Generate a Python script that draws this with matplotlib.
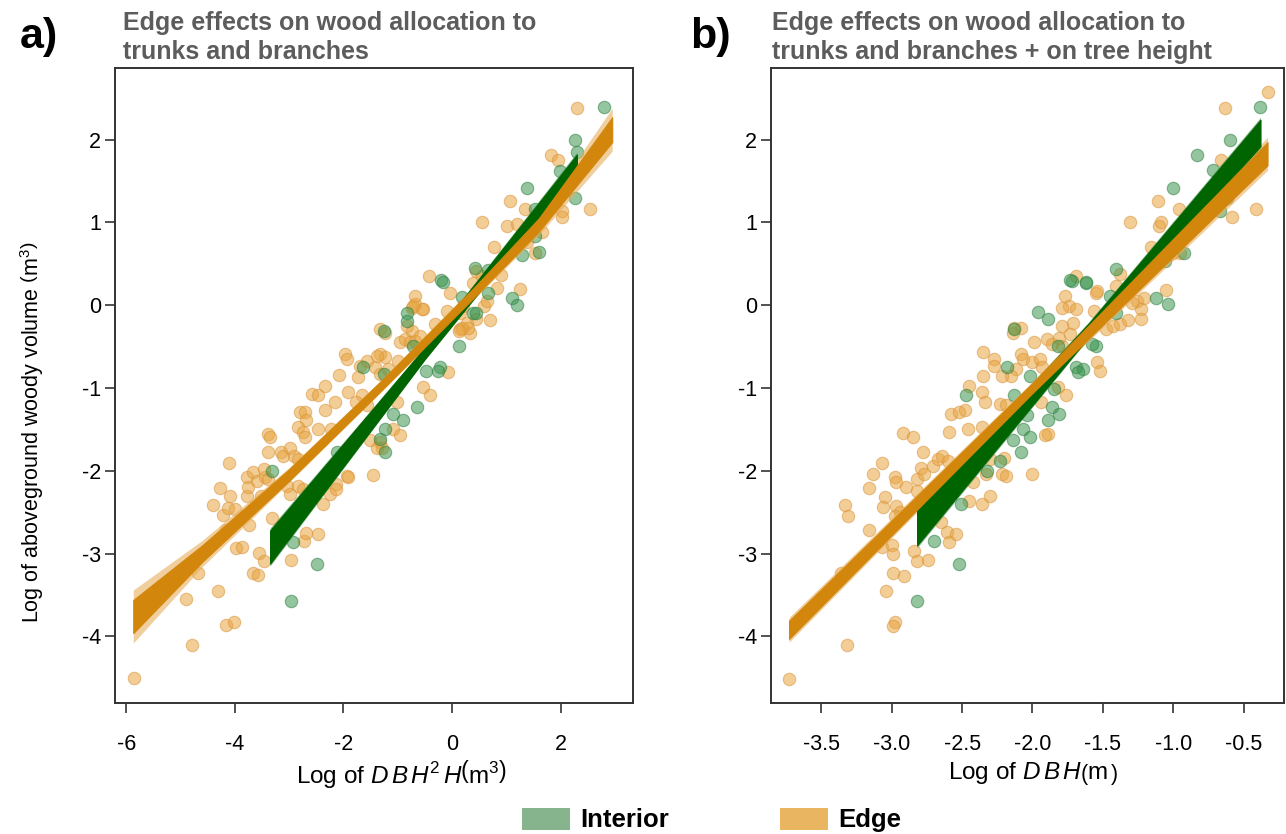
import numpy as np
import matplotlib
matplotlib.use("Agg")
import matplotlib.pyplot as plt
from matplotlib.patches import Rectangle

plt.rcParams['font.family'] = ['Liberation Sans', 'DejaVu Sans']
plt.rcParams['axes.unicode_minus'] = False
plt.rcParams['mathtext.fontset'] = 'custom'
plt.rcParams['mathtext.rm'] = 'Liberation Sans'
plt.rcParams['mathtext.it'] = 'Liberation Sans:italic'

# ---- panel a: log(DBH^2 H) vs log volume ----
edge_a_x = [-5.85, -4.78, -4.16, -4.01, -4.90, -4.31, -3.66, -3.58, -4.68, -2.97, -3.55, -3.46,
            -3.97, -3.87, -2.72, -2.69, -2.47, -4.16, -3.73, -4.40, -4.22, -4.12, -4.00, -4.27,
            -4.09, -4.10, -3.78, -3.75, -3.78, -3.66, -3.59, -3.44, -3.52, -3.46, -3.38, -3.32,
            -3.38, -3.14, -3.11, -3.38, -3.35, -2.98, -2.91, -2.83, -3.04, -2.98, -2.83, -2.74,
            -2.80, -2.71, -2.68, -2.83, -2.74, -2.71, -2.58, -2.46, -2.34, -2.15, -2.34, -2.46,
            -2.22, -1.91, -1.66, -2.13, -1.94, -1.91, -1.45, -2.25, -2.13, -2.37, -1.51, -1.33,
            -1.29, -1.39, -1.08, -0.96, -1.02, -1.76, -1.57,
            -0.68, -0.53, -0.10, -1.33, -1.23, -0.83, -0.74, -0.31, -0.96, -0.87, -0.77, -0.68,
            -0.59, -1.97, -1.94, -1.33, -1.23, -0.99, -1.57, -1.69, -1.42, -1.33, -1.17, -1.73,
            -2.09, -0.07, 0.15, 0.27, 0.33, 0.45, 0.15, -0.53, -0.41, -0.68, -0.74, -1.39,
            2.30, 1.82, 1.96, 1.06, 1.34, 2.54, 2.02, 2.02, 0.56, 1.01, 1.19, 1.66, 0.77, 1.53,
            1.38, 0.45, 0.55, 0.39, 0.91, 0.82, 1.25, -0.42, -0.04, -0.56, -0.71, 0.21, 0.58,
            0.64, 0.70, 0.30, 0.18, 0.12]
edge_a_y = [-4.50, -4.10, -3.86, -3.82, -3.55, -3.45, -3.23, -3.26, -3.24, -3.08, -2.99, -3.09,
            -2.93, -2.92, -2.85, -2.75, -2.76, -2.71, -2.66, -2.41, -2.53, -2.45, -2.46, -2.21,
            -2.30, -1.91, -2.30, -2.20, -2.08, -2.02, -2.12, -2.08, -2.30, -1.98, -2.10, -2.57,
            -1.77, -1.77, -1.82, -1.55, -1.59, -1.73, -1.82, -1.86, -2.18, -2.28, -2.18, -2.22,
            -1.29, -1.29, -1.39, -1.47, -1.53, -1.59, -1.07, -1.09, -0.97, -1.17, -1.27, -1.49,
            -1.49, -1.05, -1.09, -2.16, -2.06, -2.08, -2.05, -2.28, -2.22, -2.40, -1.63, -1.65,
            -1.73, -1.73, -1.49, -1.57, -1.17, -1.17, -1.21,
            0.01, -0.05, -0.07, -0.29, -0.33, -0.25, -0.31, -0.23, -0.45, -0.41, -0.45, -0.43,
            -0.37, -0.59, -0.65, -0.59, -0.63, -0.67, -0.67, -0.73, -0.75, -0.83, -0.77, -0.87,
            -0.84, -0.81, -0.29, -0.21, -0.33, -0.17, -0.09, -0.99, -1.09, 0.11, -0.03, -0.61,
            2.38, 1.81, 1.75, 1.26, 1.16, 1.16, 1.14, 1.06, 1.00, 0.96, 0.98, 0.88, 0.70, 0.63,
            0.76, 0.41, 0.35, 0.27, 0.37, 0.21, 0.19, 0.35, 0.15, -0.05, -0.01, -0.01, -0.01,
            0.05, -0.18, -0.27, -0.27, -0.31]
int_a_x = [-2.97, -2.48, -2.92, -3.32, -1.33, -1.23, -1.08, -0.90, -1.23, -0.65, -2.12,
           -0.83, -0.83, -1.26, -0.71, -1.63, -1.26, -0.22, -0.25, 0.12, 0.39, -0.47,
           2.80, 2.27, 2.30, 1.98, 1.39, 2.27, 1.52, 1.52, 1.28, 1.61, 0.42, 0.67, -0.21,
           -0.16, 0.18, 1.10, 1.19, 0.45, 0.67]
int_a_y = [-3.57, -3.12, -2.86, -2.00, -1.61, -1.77, -1.31, -1.39, -1.49, -1.23, -1.77,
           -0.09, -0.19, -0.31, -0.49, -0.75, -0.83, -0.75, -0.79, -0.49, -0.09, -0.79,
           2.39, 1.99, 1.85, 1.62, 1.42, 1.30, 1.16, 0.83, 0.61, 0.64, 0.45, 0.43, 0.30,
           0.28, 0.10, 0.09, 0.00, -0.09, 0.15]

# posterior line bundles: x, centre, dense half-width, outer half-width
edge_a_band_x = [-5.87, -4.6, -3.0, -1.3, 0.4, 1.6, 2.95]
edge_a_band_mid = [-3.76, -3.0, -2.05, -0.97, 0.15, 0.97, 2.12]
edge_a_band_half = [0.20, 0.10, 0.07, 0.06, 0.06, 0.08, 0.15]
edge_a_band_out = [0.32, 0.16, 0.09, 0.07, 0.08, 0.12, 0.26]
int_a_band_x = [-3.35, -0.5, 2.3]
int_a_band_mid = [-2.92, -0.58, 1.72]
int_a_band_half = [0.20, 0.07, 0.10]
int_a_band_out = [0.23, 0.08, 0.13]

# ---- panel b: log(DBH) vs log volume ----
edge_b_x = [-3.73, -3.32, -2.98, -2.99, -3.04, -2.99, -2.91, -3.36, -2.84, -2.82, -2.74, -3.07,
            -3.00, -2.99, -3.16, -3.33, -3.31, -3.16, -3.05, -3.06, -3.13, -3.07, -2.98, -2.97,
            -2.90, -2.82, -2.97, -2.94, -2.98, -2.92, -2.85, -2.82, -2.79, -2.77, -2.71, -2.67,
            -2.64, -2.60, -2.78, -2.59, -2.58, -2.52, -2.48, -2.45, -2.36, -2.34, -2.46, -2.36,
            -2.23, -2.19, -2.61, -2.54, -2.59, -2.65, -2.42, -2.36, -2.30, -2.45, -2.22, -2.19,
            -2.00, -2.33, -2.30, -2.20,
            -1.77, -1.74, -1.69, -1.79, -1.55, -1.41, -1.56, -2.08, -1.99, -1.90, -1.86, -1.81,
            -1.79, -1.71, -1.79, -1.73, -1.48, -1.43, -1.38, -2.35, -2.27, -2.27, -2.08, -2.07,
            -2.12, -2.15, -2.22, -2.00, -1.95, -1.93, -2.35, -2.13, -2.14, -1.54, -1.52, -1.82,
            -1.76, -1.89, -1.91, -1.94,
            -0.33, -0.63, -0.66, -1.11, -0.96, -0.41, -0.58, -1.31, -1.10, -1.09, -1.16, -0.95,
            -1.00, -1.38, -1.69, -1.54, -1.26, -1.21, -1.23, -1.29, -1.32, -1.23, -1.05]
edge_b_y = [-4.51, -4.10, -3.82, -3.87, -3.45, -3.23, -3.27, -3.24, -2.97, -3.09, -3.08, -2.92,
            -2.90, -3.00, -2.71, -2.41, -2.54, -2.21, -2.32, -2.44, -2.04, -1.91, -2.08, -2.14,
            -2.20, -2.24, -2.42, -2.50, -2.54, -1.54, -1.59, -2.10, -1.97, -2.04, -1.94, -1.86,
            -1.82, -1.88, -1.77, -1.53, -1.31, -1.29, -1.27, -0.97, -1.05, -1.17, -1.49, -1.47,
            -1.19, -1.21, -2.74, -2.76, -2.86, -2.62, -2.14, -2.40, -2.30, -2.36, -2.04, -2.06,
            -2.04, -2.04, -1.86, -1.84,
            0.11, -0.01, -0.05, -0.03, 0.15, 0.23, -0.07, -0.27, -0.45, -0.41, -0.47, -0.39,
            -0.49, -0.21, -0.25, -0.35, -0.29, -0.25, -0.23, -0.57, -0.65, -0.73, -0.59, -0.65,
            -0.77, -0.85, -0.85, -0.69, -0.65, -0.75, -0.85, -0.27, -0.33, -0.69, -0.79, -0.99,
            -1.09, -1.55, -1.57, -1.17,
            2.58, 2.38, 1.75, 1.26, 1.16, 1.16, 1.06, 1.00, 0.96, 1.00, 0.70, 0.63,
            0.63, 0.38, 0.35, 0.17, 0.05, 0.09, -0.05, 0.03, -0.18, -0.17, 0.18]
int_b_x = [-2.82, -2.52, -2.70, -2.47, -2.51, -2.23, -2.32, -2.13, -2.07, -2.04, -2.02, -2.08,
           -2.14, -1.72, -1.62, -1.45, -1.41, -1.96, -1.89, -2.13, -1.82, -1.55, -1.58, -2.18,
           -2.02, -1.69, -1.64, -1.68, -1.86, -1.81, -1.89, -1.85,
           -0.38, -0.60, -0.83, -0.72, -1.00, -0.62, -0.67, -0.92, -1.06, -1.41, -1.73, -1.62,
           -1.12, -1.04]
int_b_y = [-3.57, -3.12, -2.85, -1.08, -2.40, -1.88, -2.00, -1.09, -1.49, -1.33, -1.59, -1.77,
           -1.63, 0.29, 0.27, 0.11, -0.09, -0.08, -0.17, -0.29, -0.49, -0.49, -0.47, -0.75,
           -0.85, -0.75, -0.77, -0.81, -1.23, -1.31, -1.39, -1.01,
           2.39, 1.99, 1.81, 1.63, 1.42, 1.29, 1.14, 0.63, 0.53, 0.44, 0.31, 0.28,
           0.09, 0.01]

edge_b_band_x = [-3.73, -2.0, -0.33]
edge_b_band_mid = [-3.92, -1.00, 1.83]
edge_b_band_half = [0.11, 0.06, 0.14]
edge_b_band_out = [0.15, 0.08, 0.20]
int_b_band_x = [-2.82, -1.6, -0.38]
int_b_band_mid = [-2.68, -0.30, 2.08]
int_b_band_half = [0.22, 0.08, 0.16]
int_b_band_out = [0.25, 0.10, 0.19]

titles = ['Edge effects on wood allocation to\ntrunks and branches',
          'Edge effects on wood allocation to\ntrunks and branches + on tree height']
panel_tags = ['a)', 'b)']
xlabels = [r'Log of $D\,B\,H^{2}\,H\left(\mathrm{m}^{3}\right)$',
           r'Log of $D\,B\,H\left(\mathrm{m}^{\,}_{\,}\right)$']
ylabel = r'Log of aboveground woody volume $\left(\mathrm{m}^{3}\right)$'
legend_labels = ['Interior', 'Edge']

edge_pt = '#E8A540'
int_pt = '#3C9650'
edge_line = '#D2870C'
edge_fringe = '#E6AE5C'
int_line = '#006400'
int_fringe = '#3E8E4A'
legend_cols = ['#86B48C', '#E9B560']


def draw_band(ax, x, mid, half, out, col, fringe):
    x = np.array(x)
    mid = np.array(mid)
    ax.fill_between(x, mid - np.array(out), mid + np.array(out), color=fringe, alpha=0.6, lw=0, zorder=3)
    ax.fill_between(x, mid - np.array(half), mid + np.array(half), color=col, lw=0.8, edgecolor=col, zorder=4)


fig = plt.figure(figsize=(12.86, 8.34), dpi=100)
W, H = 1286., 834.
ax_a = fig.add_axes([115 / W, 1 - 703 / H, (633 - 115) / W, (703 - 68) / H])
ax_b = fig.add_axes([771 / W, 1 - 703 / H, (1284 - 771) / W, (703 - 68) / H])

panels = [
    (ax_a, edge_a_x, edge_a_y, int_a_x, int_a_y,
     (edge_a_band_x, edge_a_band_mid, edge_a_band_half, edge_a_band_out),
     (int_a_band_x, int_a_band_mid, int_a_band_half, int_a_band_out)),
    (ax_b, edge_b_x, edge_b_y, int_b_x, int_b_y,
     (edge_b_band_x, edge_b_band_mid, edge_b_band_half, edge_b_band_out),
     (int_b_band_x, int_b_band_mid, int_b_band_half, int_b_band_out)),
]

for ax, ex, ey, ix, iy, eband, iband in panels:
    ax.scatter(ex, ey, s=80, facecolor=edge_pt, edgecolor='#D9943A', alpha=0.55, lw=0.8, zorder=2)
    ax.scatter(ix, iy, s=80, facecolor=int_pt, edgecolor='#2F7F42', alpha=0.55, lw=0.8, zorder=2)
    draw_band(ax, *iband, int_line, int_fringe)
    draw_band(ax, *eband, edge_line, edge_fringe)
    ax.set_ylim(-4.804, 2.865)
    ax.set_yticks([-4, -3, -2, -1, 0, 1, 2])
    ax.set_yticklabels(['-4', '-3', '-2', '-1', '0', '1', '2'])
    for s in ax.spines.values():
        s.set_linewidth(1.4)
        s.set_color('#333333')
    ax.tick_params(direction='out', length=7.5, width=1.2, color='#333333', labelsize=15.5)
    ax.tick_params(axis='y', pad=2.5)
    ax.tick_params(axis='x', pad=15)

ax_a.set_xlim(-6.206, 3.333)
ax_a.set_xticks([-6, -4, -2, 0, 2])
ax_a.set_xticklabels(['-6', '-4', '-2', '0', '2'])
ax_b.set_xlim(-3.858, -0.213)
ax_b.set_xticks([-3.5, -3.0, -2.5, -2.0, -1.5, -1.0, -0.5])
ax_b.set_xticklabels(['-3.5', '-3.0', '-2.5', '-2.0', '-1.5', '-1.0', '-0.5'])

for ax, xl, cx in zip([ax_a, ax_b], xlabels, [402, 1033]):
    lab = ax.set_xlabel(xl, fontsize=17.5)
    left = ax.get_position().x0 * W
    width = ax.get_position().width * W
    ax.xaxis.set_label_coords((cx - left) / width, (703 - 774) / 635.)
    lab.set_va('center')
ax_a.set_ylabel(ylabel, fontsize=15.5)
ax_a.yaxis.set_label_coords((32 - 115) / 518., (703 - 432) / 635.)
ax_a.yaxis.label.set_va('center')

for x0, title in zip([123, 772], titles):
    fig.text(x0 / W, 1 - 11 / H, title, ha='left', va='top', fontsize=18, fontweight='bold',
             color='#5C5C5C', linespacing=1.25)
for x0, tag in zip([20, 690], panel_tags):
    fig.text(x0 / W, 1 - 17 / H, tag, ha='left', va='top', fontsize=31, fontweight='bold', color='black')

# legend at the bottom
for x0, lab, col in zip([522, 780], legend_labels, legend_cols):
    fig.add_artist(Rectangle((x0 / W, 1 - 830 / H), 48 / W, 22 / H, transform=fig.transFigure,
                             facecolor=col, edgecolor='none'))
    fig.text((x0 + 58) / W, 1 - 820 / H, lab, ha='left', va='center', fontsize=18.5, fontweight='bold')

fig.savefig('out.png', dpi=100)
